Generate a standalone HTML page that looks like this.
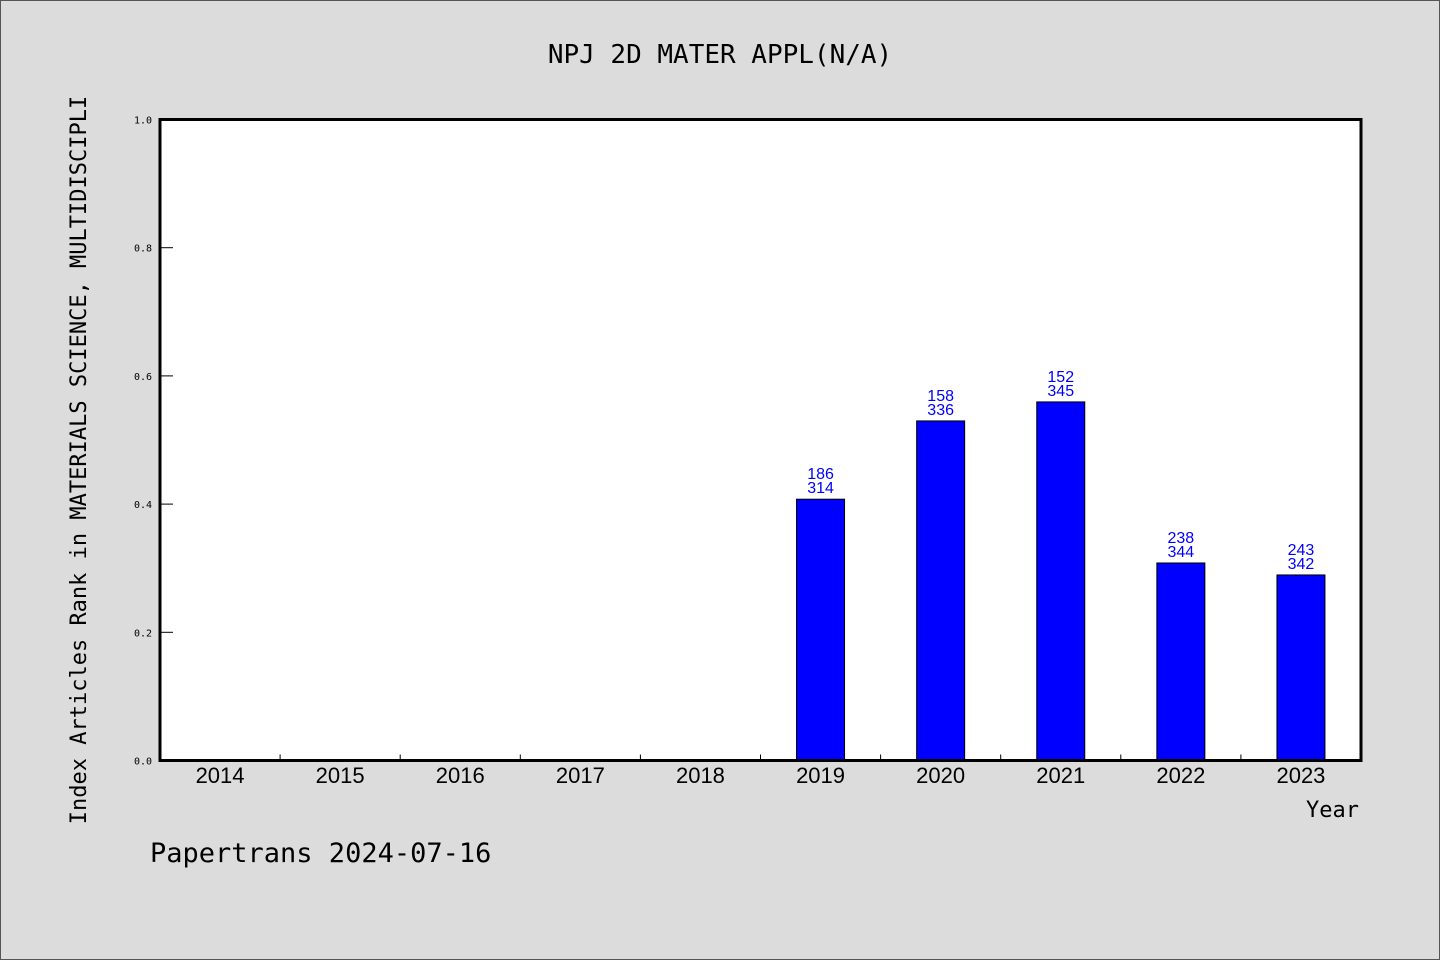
<!DOCTYPE html>
<html><head><meta charset="utf-8"><style>
body{margin:0;background:#dcdcdc;}
svg{display:block;font-family:"DejaVu Sans Mono","Liberation Mono",monospace;}
</style></head><body>
<svg id="c" width="1440" height="960" xmlns="http://www.w3.org/2000/svg">
<rect x="0.5" y="0.5" width="1439" height="959" fill="#dcdcdc" stroke="#555"/>
<text x="720" y="63" font-size="26" text-anchor="middle">NPJ 2D MATER APPL(N/A)</text>
<rect x="160" y="119.5" width="1201" height="641" fill="#fff"/>
<g id="marks"></g>
<rect x="160" y="119.5" width="1201" height="641" fill="none" stroke="#000" stroke-width="3"/>
<text transform="translate(86,460) rotate(-90)" font-size="22" text-anchor="middle">Index Articles Rank in MATERIALS SCIENCE, MULTIDISCIPLI</text>
<text x="1359" y="817" font-size="22" text-anchor="end">Year</text>
<text x="150" y="862" font-size="27">Papertrans 2024-07-16</text>
</svg>
<script>
const years=["2014","2015","2016","2017","2018","2019","2020","2021","2022","2023"];
const ranks=[null,null,null,null,null,186,158,152,238,243];
const totals=[null,null,null,null,null,314,336,345,344,342];
const yTicks=[0,0.2,0.4,0.6,0.8,1.0];
const yTickLabels=["0.0","0.2","0.4","0.6","0.8","1.0"];
const NS="http://www.w3.org/2000/svg";
const L=160,R=1361,T=119.5,B=760.5;
const slot=(R-L)/years.length;
const xc=i=>L+slot*(i+0.5);
const ys=v=>B-(B-T)*v;
const g=document.getElementById('marks');
function mk(t,a){const e=document.createElementNS(NS,t);for(const k in a)e.setAttribute(k,a[k]);return e;}
yTicks.forEach((v,i)=>{
 const l=mk('line',{x1:L,x2:L+13,y1:ys(v),y2:ys(v),stroke:'#000','stroke-width':1});
 
 
 g.appendChild(l);
 const t=mk('text',{x:L-8,y:ys(v)+4,'font-size':10,'text-anchor':'end'});
 t.textContent=yTickLabels[i];
 
 
 g.appendChild(t);
});
years.forEach((y,i)=>{
 if(i>0){const l=mk('line',{x1:L+slot*i,x2:L+slot*i,y1:B,y2:B-6,stroke:'#000','stroke-width':1});
 
 
 g.appendChild(l);}
 const t=mk('text',{x:xc(i),y:783,'font-size':22,'text-anchor':'middle','font-family':'Liberation Sans, sans-serif'});
 t.textContent=y;
 
 
 g.appendChild(t);
 if(ranks[i]!=null){
  const v=1-ranks[i]/totals[i];
  const b=mk('rect',{x:xc(i)-24,y:ys(v),width:48,height:B-ys(v),fill:'#0000ff',stroke:'#000','stroke-width':1});
  
  
  g.appendChild(b);
  const t1=mk('text',{x:xc(i),y:ys(v)-20,'font-size':16,'text-anchor':'middle',fill:'#0000ff','font-family':'Liberation Sans, sans-serif'});
  t1.textContent=ranks[i];
  
  
  g.appendChild(t1);
  const t2=mk('text',{x:xc(i),y:ys(v)-6,'font-size':16,'text-anchor':'middle',fill:'#0000ff','font-family':'Liberation Sans, sans-serif'});
  t2.textContent=totals[i];
  
  
  g.appendChild(t2);
 }
});
</script>
</body></html>
